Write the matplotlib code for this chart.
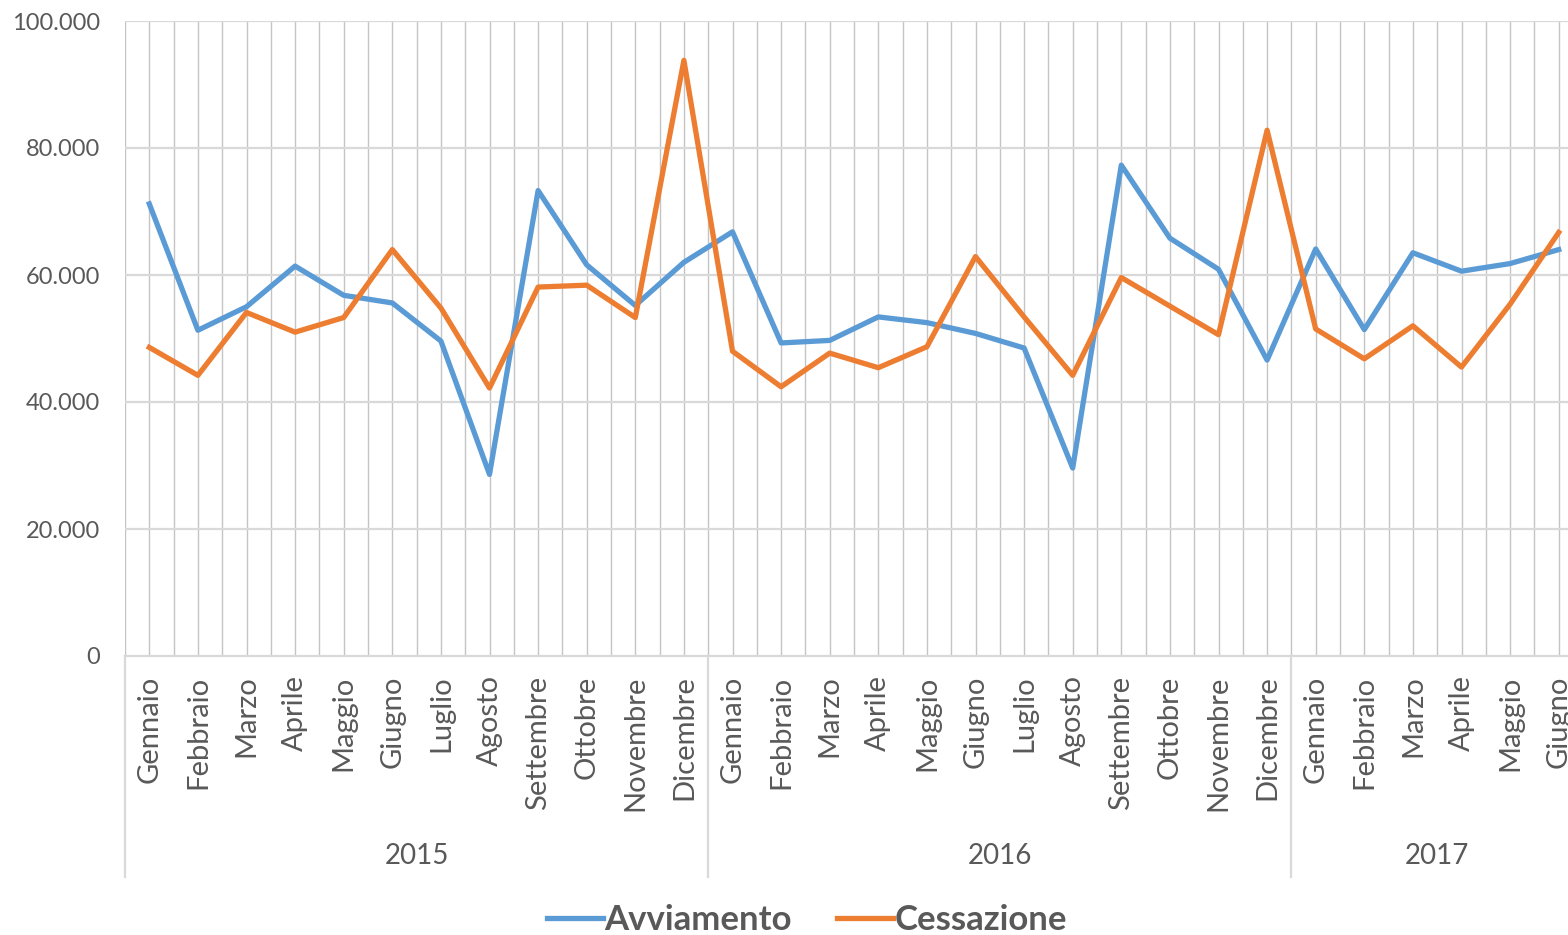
import matplotlib.pyplot as plt
from matplotlib.ticker import FuncFormatter

plt.rcParams['font.family'] = ['Lato', 'DejaVu Sans']

months = ["Gennaio", "Febbraio", "Marzo", "Aprile", "Maggio", "Giugno",
          "Luglio", "Agosto", "Settembre", "Ottobre", "Novembre", "Dicembre"]
years = ["2015", "2016", "2017"]
months_per_year = [12, 12, 6]

avviamento = [71200, 51300, 55000, 61400, 56800, 55600, 49600, 28600, 73300, 61600, 55200, 62000,
              66800, 49300, 49700, 53400, 52500, 50800, 48500, 29600, 77300, 65800, 60900, 46600,
              64100, 51400, 63500, 60600, 61800, 64000]
cessazione = [48600, 44200, 54100, 51000, 53300, 64000, 54800, 42200, 58100, 58400, 53300, 93800,
              48000, 42400, 47700, 45400, 48700, 62900, 53400, 44200, 59600, 55100, 50600, 82800,
              51500, 46800, 52000, 45500, 55400, 66700]

labels = []
for n in months_per_year:
    labels += months[:n]
x = list(range(len(labels)))

text_col = "#595959"
fig = plt.figure(figsize=(15.68, 9.35), dpi=100)
ax = fig.add_axes([125 / 1568, 1 - 656 / 935, (1583 - 125) / 1568, (656 - 21) / 935])

ax.plot(x, avviamento, color="#5B9BD5", lw=3.8, label="Avviamento", solid_joinstyle="round", zorder=3)
ax.plot(x, cessazione, color="#ED7D31", lw=3.8, label="Cessazione", solid_joinstyle="round", zorder=3)

ax.set_xlim(-0.5, len(x) - 0.5)
ax.set_ylim(0, 100000)
ax.set_yticks(range(0, 100001, 20000))
ax.yaxis.set_major_formatter(FuncFormatter(lambda v, p: "0" if v == 0 else f"{int(v):,}".replace(",", ".")))

# gridlines
for gx in [i * 0.5 - 0.5 for i in range(2 * len(x) + 1)]:
    ax.axvline(gx, color="#c4c4c4", lw=1.0, zorder=1)
for gy in range(20000, 100001, 20000):
    ax.axhline(gy, color="#d9d9d9", lw=1.6, zorder=1)

for s in ["top", "right", "left"]:
    ax.spines[s].set_visible(False)
ax.spines["bottom"].set_color("#d9d9d9")
ax.spines["bottom"].set_linewidth(1.6)

ax.set_xticks(x)
ax.set_xticklabels(labels, rotation=90, fontsize=21, color=text_col, va="top")
ax.tick_params(axis="x", length=0, pad=14)
ax.tick_params(axis="y", length=0, pad=18, labelsize=17, labelcolor=text_col)

# year group labels and separators
start = 0
sep_bottom = -(877 - 656) / 635
for yr, n in zip(years, months_per_year):
    ax.plot([start - 0.5, start - 0.5], [0, sep_bottom], transform=ax.get_xaxis_transform(),
            color="#d9d9d9", lw=1.6, clip_on=False)
    ax.text(start + n / 2 - 0.5, -(856 - 656) / 635, yr, transform=ax.get_xaxis_transform(),
            ha="center", va="center", fontsize=20, color=text_col)
    start += n

leg = fig.legend(loc="center", bbox_to_anchor=(807 / 1568, 1 - 920 / 935), ncol=2, frameon=False,
                 prop={"size": 25, "weight": "bold"}, handlelength=1.6, columnspacing=1.3,
                 handletextpad=0.05)
for t in leg.get_texts():
    t.set_color(text_col)

fig.savefig("out.png", dpi=100)
